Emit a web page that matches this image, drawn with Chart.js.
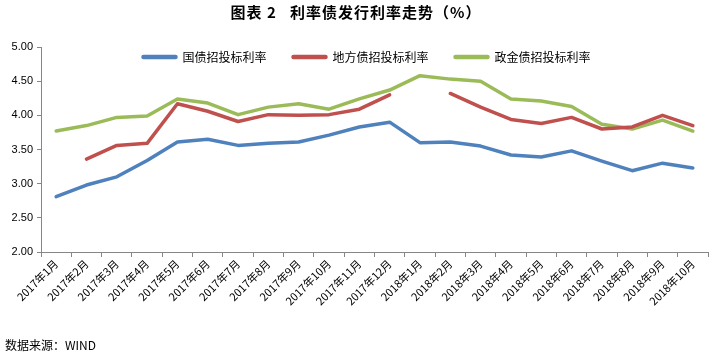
<!DOCTYPE html>
<html>
<head>
<meta charset="utf-8">
<script src="https://cdn.jsdelivr.net/npm/chart.js@4"></script>
<style>
html,body{margin:0;padding:0;background:#fff;}
#wrap{position:relative;width:716px;height:358px;}
</style>
</head>
<body>
<div id="wrap"><canvas id="c" width="716" height="358"></canvas></div>
<script>
const categories = ["2017年1月","2017年2月","2017年3月","2017年4月","2017年5月","2017年6月","2017年7月","2017年8月","2017年9月","2017年10月","2017年11月","2017年12月","2018年1月","2018年2月","2018年3月","2018年4月","2018年5月","2018年6月","2018年7月","2018年8月","2018年9月","2018年10月"];
const guozhai = [2.81,2.98,3.10,3.34,3.61,3.65,3.56,3.59,3.61,3.71,3.83,3.90,3.60,3.61,3.55,3.42,3.39,3.48,3.33,3.19,3.30,3.23];
const difang = [null,3.36,3.56,3.59,4.17,4.06,3.91,4.01,4.00,4.01,4.09,4.30,null,4.32,4.12,3.94,3.88,3.97,3.80,3.83,4.00,3.85];
const zhengjin = [3.77,3.85,3.97,3.99,4.24,4.18,4.01,4.12,4.17,4.09,4.24,4.37,4.58,4.53,4.50,4.24,4.21,4.13,3.87,3.80,3.93,3.77];
const seriesNames = ["国债招投标利率","地方债招投标利率","政金债招投标利率"];
const yTicks = [2.00,2.50,3.00,3.50,4.00,4.50,5.00];
const titleText = "图表 2   利率债发行利率走势（%）";
const sourceText = "数据来源：WIND";

const colors = ["#4F81BD","#C0504D","#9BBB59"];
const cjk = '"Noto Sans CJK SC", sans-serif';

const extraText = {
  id: 'extraText',
  afterDraw(chart) {
    const ctx = chart.ctx;
    ctx.save();
    ctx.fillStyle = '#000';
    ctx.font = 'bold 15px ' + cjk;
    if ('letterSpacing' in ctx) ctx.letterSpacing = '1px';
    ctx.textAlign = 'center';
    ctx.textBaseline = 'middle';
    ctx.fillText(titleText, 356, 12);
    if ('letterSpacing' in ctx) ctx.letterSpacing = '0px';
    ctx.font = '12px ' + cjk;
    ctx.textAlign = 'left';
    ctx.fillText(sourceText, 5, 345);

    // legend drawn from dataset labels/colours
    const sample = 36, gapText = 5, gapItem = 25;
    ctx.font = '12px ' + cjk;
    const items = chart.data.datasets.map(ds => ({ text: ds.label, color: ds.borderColor, w: ctx.measureText(ds.label).width }));
    const total = items.reduce((s, it) => s + sample + gapText + it.w, 0) + gapItem * (items.length - 1);
    let x = 366 - total / 2;
    const y = 57;
    items.forEach(it => {
      ctx.strokeStyle = it.color;
      ctx.lineWidth = 4.5;
      ctx.lineCap = 'round';
      ctx.beginPath();
      ctx.moveTo(x + 2, y);
      ctx.lineTo(x + sample - 2, y);
      ctx.stroke();
      ctx.fillStyle = '#000';
      ctx.textAlign = 'left';
      ctx.textBaseline = 'middle';
      ctx.fillText(it.text, x + sample + gapText, y);
      x += sample + gapText + it.w + gapItem;
    });
    ctx.restore();
  }
};

new Chart(document.getElementById('c'), {
  type: 'line',
  data: {
    labels: categories,
    datasets: [guozhai, difang, zhengjin].map((d, i) => ({
      label: seriesNames[i],
      data: d,
      borderColor: colors[i],
      backgroundColor: colors[i],
      borderWidth: 3.5,
      pointRadius: 0,
      pointHoverRadius: 0,
      tension: 0,
      spanGaps: false,
      borderCapStyle: 'round',
      borderJoinStyle: 'round',
      fill: false
    }))
  },
  options: {
    responsive: false,
    animation: false,
    devicePixelRatio: 1,
    layout: { padding: { top: 47, left: 0, right: 8, bottom: 0 } },
    plugins: {
      title: { display: false },
      tooltip: { enabled: false },
      legend: { display: false }
    },
    scales: {
      x: {
        type: 'category',
        offset: true,
        grid: { display: true, drawOnChartArea: false, offset: true, tickLength: 5, color: '#868686' },
        border: { color: '#868686', width: 1 },
        ticks: {
          autoSkip: false,
          maxRotation: 45,
          minRotation: 45,
          color: '#000',
          font: { family: cjk, size: 11 },
          padding: 0
        },
        afterFit(scale) { scale.height = 106; }
      },
      y: {
        min: 2,
        max: 5,
        afterBuildTicks(scale) { scale.ticks = yTicks.map(v => ({ value: v })); },
        grid: { display: true, drawOnChartArea: false, tickLength: 4, color: '#868686' },
        border: { color: '#868686', width: 1 },
        ticks: {
          color: '#000',
          font: { family: '"Liberation Sans", Arial, sans-serif', size: 11 },
          padding: 4,
          callback: (v) => Number(v).toFixed(2)
        },
        afterFit(scale) { scale.width = 41; }
      }
    }
  },
  plugins: [extraText]
});
</script>
</body>
</html>
